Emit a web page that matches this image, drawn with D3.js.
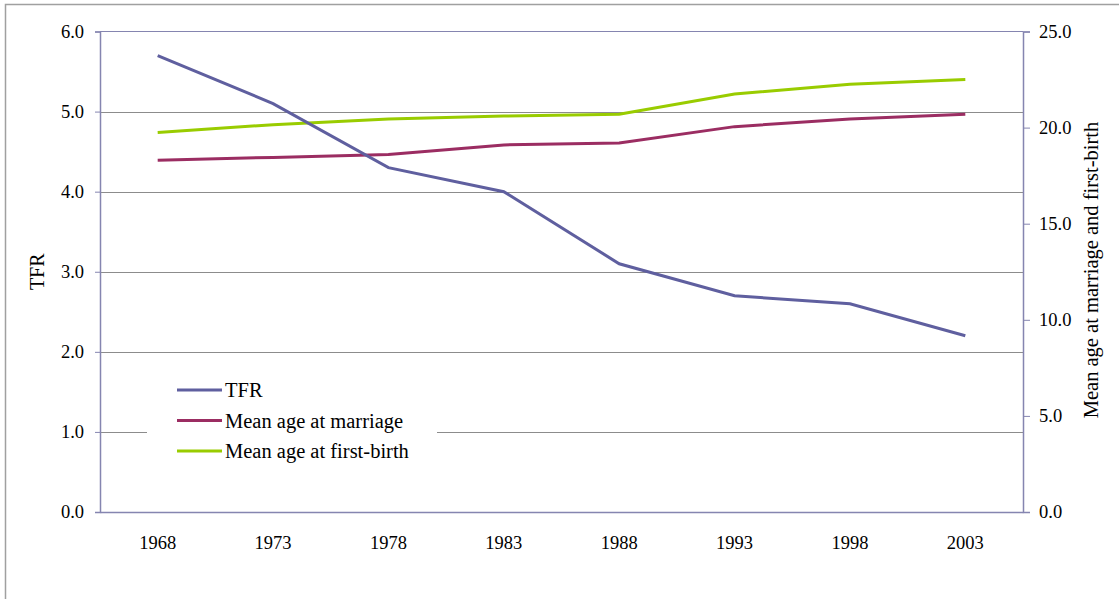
<!DOCTYPE html>
<html><head><meta charset="utf-8">
<script src="https://cdn.jsdelivr.net/npm/d3@7"></script>
<style>body{margin:0;background:#fff}svg{display:block}text{font-family:"Liberation Serif","Times New Roman",serif;fill:#000}</style>
</head><body>
<svg id="c" width="1119" height="599"></svg>
<script>
const years = ["1968","1973","1978","1983","1988","1993","1998","2003"];
const tfr = [5.7,5.1,4.3,4.0,3.1,2.7,2.6,2.2];
const ageMarriage = [18.3,18.45,18.6,19.1,19.2,20.05,20.45,20.7];
const ageFirstBirth = [19.75,20.15,20.45,20.6,20.7,21.75,22.25,22.5];
const leftTicks = [0,1,2,3,4,5,6];
const rightTicks = [0,5,10,15,20,25];
const seriesNames = ["TFR","Mean age at marriage","Mean age at first-birth"];
const colors = ["#5f5f9f","#9b2d62","#99cc00"];

const svg = d3.select("#c");
const L=100, R=1023, T=31.5, B=512;
const axisColor="#8585b0", gridColor="#8c8c8c";
const FONT = '"Liberation Serif"';

svg.append("rect").attr("x",5.5).attr("y",4.5).attr("width",1130).attr("height",620)
  .attr("fill","none").attr("stroke","#a0a0a0").attr("stroke-width",1.5);

const x = d3.scaleBand().domain(years).range([L,R]);
const yL = d3.scaleLinear().domain([0,6]).range([B,T]);
const yR = d3.scaleLinear().domain([0,25]).range([B,T]);

// grid
svg.append("g").selectAll("line").data(leftTicks.filter(d=>d>0&&d<6)).join("line")
  .attr("x1",L).attr("x2",R).attr("y1",d=>Math.round(yL(d))+0.5).attr("y2",d=>Math.round(yL(d))+0.5)
  .attr("stroke",gridColor).attr("stroke-width",1);
// top border
svg.append("line").attr("x1",L).attr("x2",R).attr("y1",T).attr("y2",T).attr("stroke",axisColor).attr("stroke-width",1.2);

// left axis
const gl = svg.append("g").attr("transform",`translate(${L},0)`)
  .call(d3.axisLeft(yL).tickValues(leftTicks).tickFormat(d3.format(".1f")).tickSize(5).tickPadding(11));
gl.select(".domain").attr("stroke",axisColor).attr("stroke-width",1.5);
gl.selectAll(".tick line").attr("stroke",axisColor);
gl.selectAll("text").style("font-size","18.5px").style("font-family",FONT);

// right axis
const gr = svg.append("g").attr("transform",`translate(${R},0)`)
  .call(d3.axisRight(yR).tickValues(rightTicks).tickFormat(d3.format(".1f")).tickSize(7).tickPadding(9));
gr.select(".domain").attr("stroke",axisColor).attr("stroke-width",1.5);
gr.selectAll(".tick line").attr("stroke",axisColor);
gr.selectAll("text").style("font-size","18.5px").style("font-family",FONT);

// bottom axis
const gb = svg.append("g").attr("transform",`translate(0,${B})`)
  .call(d3.axisBottom(x).tickSize(0).tickPadding(24));
gb.select(".domain").attr("stroke",axisColor).attr("stroke-width",1.5);
gb.selectAll("text").style("font-size","18.5px").style("font-family",FONT);

// axis titles
svg.append("text").attr("transform",`translate(44,${(T+B)/2}) rotate(-90)`).attr("text-anchor","middle")
  .style("font-size","20px").style("font-family",FONT).text("TFR");
svg.append("text").attr("transform",`translate(1098,270) rotate(-90)`).attr("text-anchor","middle")
  .style("font-size","20.5px").style("font-family",FONT).text("Mean age at marriage and first-birth");

// lines
const cx = d=>x(d)+x.bandwidth()/2;
const lineL = d3.line().x((d,i)=>cx(years[i])).y(d=>yL(d));
const lineR = d3.line().x((d,i)=>cx(years[i])).y(d=>yR(d));

// legend box
const lg = svg.append("g");
lg.append("rect").attr("x",147).attr("y",373).attr("width",290).attr("height",94).attr("fill","#fff");

svg.append("path").datum(ageMarriage).attr("d",lineR).attr("fill","none").attr("stroke",colors[1]).attr("stroke-width",3);
svg.append("path").datum(ageFirstBirth).attr("d",lineR).attr("fill","none").attr("stroke",colors[2]).attr("stroke-width",3);
svg.append("path").datum(tfr).attr("d",lineL).attr("fill","none").attr("stroke",colors[0]).attr("stroke-width",3);

seriesNames.forEach((n,i)=>{
  const yy = 390 + i*30.5;
  lg.append("line").attr("x1",177).attr("x2",222).attr("y1",yy).attr("y2",yy).attr("stroke",colors[i]).attr("stroke-width",3);
  lg.append("text").attr("x",225).attr("y",yy).attr("dy","0.35em").style("font-size","20.5px").style("font-family",FONT).text(n);
});
</script>
</body></html>
